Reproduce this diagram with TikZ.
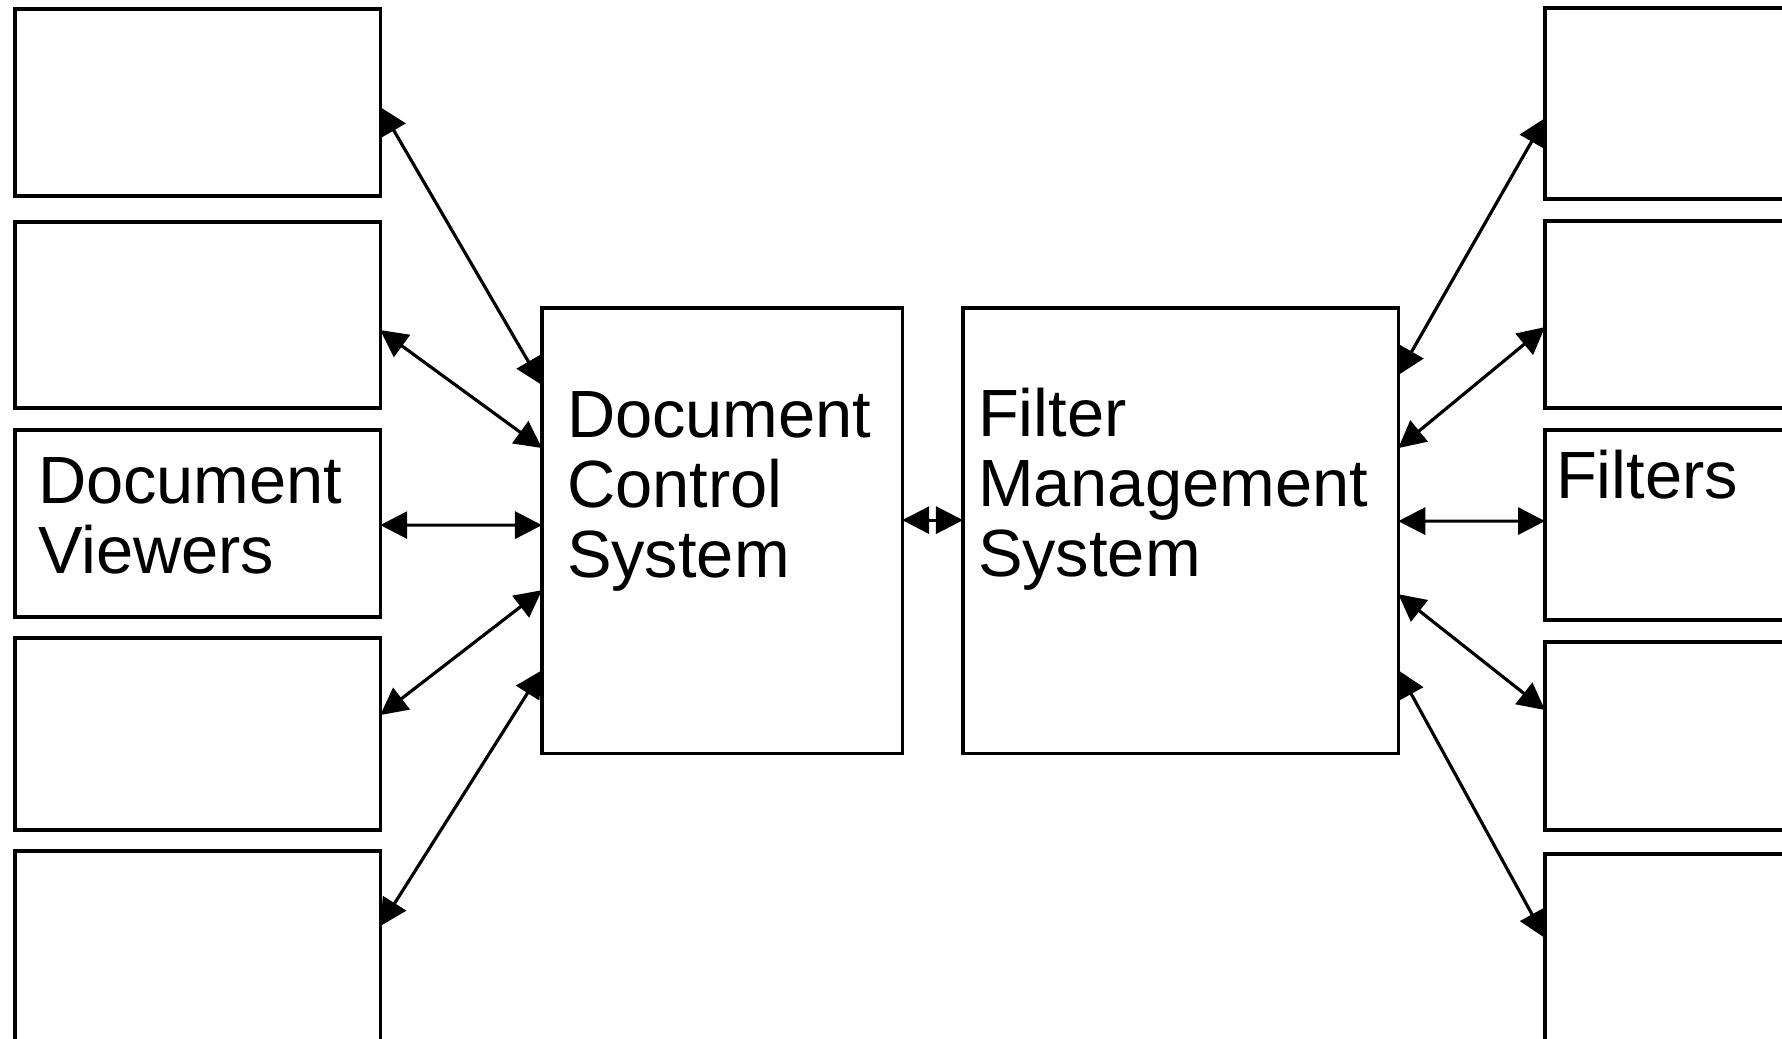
\documentclass[tikz,border=0pt]{standalone}
\usepackage{fontspec}
\setmainfont{Liberation Sans}
\usetikzlibrary{arrows.meta}
\begin{document}
\begin{tikzpicture}[x=0.01cm, y=-0.01cm,
  box/.style={draw, rectangle, line width=0.95pt, inner sep=0pt, outer sep=0pt, anchor=north west},
  lbl/.style={inner sep=0pt, outer sep=0pt, anchor=base west, align=left, font={\fontsize{19}{19.8}\selectfont}},
  link/.style={line width=0.9pt, {Triangle[length=0.27cm,width=0.27cm]}-{Triangle[length=0.27cm,width=0.27cm]}}]
\useasboundingbox (0,0) rectangle (1782,1038);
\clip (0,0) rectangle (1782,1038);

% viewer boxes (left column)
\node[box, minimum width=3.65cm, minimum height=1.87cm] (lv1) at (15,9) {};
\node[box, minimum width=3.65cm, minimum height=1.86cm] (lv2) at (15,222) {};
\node[box, minimum width=3.65cm, minimum height=1.87cm] (lv3) at (15,430) {};
\node[box, minimum width=3.65cm, minimum height=1.92cm] (lv4) at (15,638) {};
\node[box, minimum width=3.65cm, minimum height=2.50cm] (lv5) at (15,851) {};

% the two central systems
\node[box, minimum width=3.60cm, minimum height=4.45cm] (dcs) at (542,308) {};
\node[box, minimum width=4.35cm, minimum height=4.45cm] (fms) at (963,308) {};

% filter boxes (right column)
\node[box, minimum width=3.00cm, minimum height=1.91cm] (rf1) at (1545,8) {};
\node[box, minimum width=3.00cm, minimum height=1.87cm] (rf2) at (1545,221) {};
\node[box, minimum width=3.00cm, minimum height=1.90cm] (rf3) at (1545,430) {};
\node[box, minimum width=3.00cm, minimum height=1.88cm] (rf4) at (1545,642) {};
\node[box, minimum width=3.00cm, minimum height=2.50cm] (rf5) at (1545,854) {};

% labels (anchored on the baseline of their last line)
\node[lbl] (dcslbl) at (567,577) {Document\\Control\\System};
\node[lbl] (fmslbl) at (978,576) {Filter\\Management\\System};
\node[lbl] (lv3lbl) at (38,573) {Document\\Viewers};
\node[lbl] (rf3lbl) at (1556,498) {Filters};

% viewers <-> document control system
\draw[link] ([yshift=-0.98cm]lv1.north east) -- ([yshift=-0.77cm]dcs.north west);
\draw[link] ([yshift=-1.08cm]lv2.north east) -- ([yshift=-1.40cm]dcs.north west);
\draw[link] ([yshift=-0.95cm]lv3.north east) -- ([yshift=-2.17cm]dcs.north west);
\draw[link] ([yshift=-0.77cm]lv4.north east) -- ([yshift=-2.82cm]dcs.north west);
\draw[link] ([yshift=-0.75cm]lv5.north east) -- ([yshift=-3.62cm]dcs.north west);

% document control system <-> filter management system
\draw[link] ([yshift=-2.12cm]dcs.north east) -- ([yshift=-2.12cm]fms.north west);

% filter management system <-> filters
\draw[link] ([yshift=-0.67cm]fms.north east) -- ([yshift=-1.10cm]rf1.north west);
\draw[link] ([yshift=-1.40cm]fms.north east) -- ([yshift=-1.06cm]rf2.north west);
\draw[link] ([yshift=-2.13cm]fms.north east) -- ([yshift=-0.91cm]rf3.north west);
\draw[link] ([yshift=-2.86cm]fms.north east) -- ([yshift=-0.68cm]rf4.north west);
\draw[link] ([yshift=-3.62cm]fms.north east) -- ([yshift=-0.84cm]rf5.north west);
\end{tikzpicture}
\end{document}
